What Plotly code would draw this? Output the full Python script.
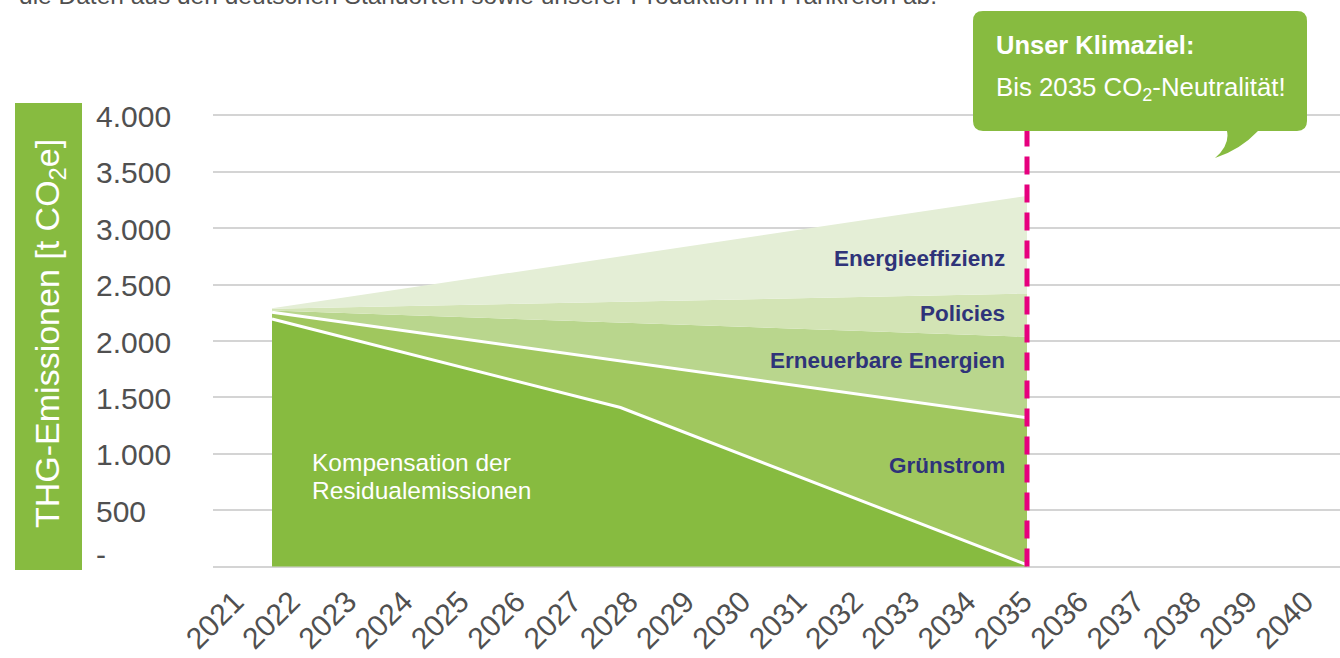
import numpy as np
import plotly.graph_objects as go

# ---------------- data ----------------
years_all = list(range(2021, 2041))
year_labels = [str(y) for y in years_all]

vertex_years = [2022, 2028, 2035]
kompensation = [2195, 1410, 15]      # Kompensation der Residualemissionen
gruenstrom = [60, 414, 1304]         # Grünstrom
erneuerbare = [15, 339, 719]         # Erneuerbare Energien
policies = [15, 184, 382]            # Policies
effizienz = [5, 403, 867]            # Energieeffizienz

y_ticks = [0, 500, 1000, 1500, 2000, 2500, 3000, 3500, 4000]
y_tick_labels = ["-", "500", "1.000", "1.500", "2.000", "2.500", "3.000", "3.500", "4.000"]

target_year = 2035

# ---------------- layout geometry ----------------
W, H = 1340, 658
ML, MR, MT, MB = 213, 0, 114, 90
PW, PH = W - ML - MR, H - MT - MB


def pxx(x):
    return (x - ML) / PW


def pxy(y):
    return (H - MB - y) / PH


FONT = "Liberation Sans, Arial, Helvetica, sans-serif"
NAVY = "#2f3379"
GREEN = "#87bb40"
GREY = "#505050"

series = [
    ("Kompensation", kompensation, GREEN, True),
    ("Grünstrom", gruenstrom, "#a0c75e", True),
    ("Erneuerbare Energien", erneuerbare, "#b9d68d", False),
    ("Policies", policies, "#d3e4b5", False),
    ("Energieeffizienz", effizienz, "#e4eed6", False),
]

fig = go.Figure()
cum = np.zeros(len(vertex_years))
for i, (name, vals, color, white_line) in enumerate(series):
    cum = cum + np.array(vals, dtype=float)
    fig.add_trace(go.Scatter(
        x=vertex_years, y=cum.tolist(), name=name,
        mode="lines",
        fill="tozeroy" if i == 0 else "tonexty",
        fillcolor=color,
        line=dict(color="white" if white_line else color, width=3 if white_line else 0),
        hoverinfo="skip", showlegend=False,
    ))

# invisible trace carrying the year axis
fig.add_trace(go.Scatter(x=years_all, y=[0] * len(years_all), xaxis="x2", mode="markers",
                         marker=dict(opacity=0), hoverinfo="skip", showlegend=False))

# ---------------- axes ----------------
x_px_per_year = (1027 - 272) / (2035 - 2022)
x0 = 2022 - (272 - ML) / x_px_per_year
x1 = 2022 + (W - 272) / x_px_per_year

lab_px_per_year = 56.3
lab_first = 235
l0 = 2021 - (lab_first - ML) / lab_px_per_year
l1 = 2021 + (W - lab_first) / lab_px_per_year

y_per_px = 4000 / PH

fig.update_layout(
    width=W, height=H,
    margin=dict(l=ML, r=MR, t=MT, b=MB, pad=0),
    paper_bgcolor="white", plot_bgcolor="white",
    showlegend=False,
    font=dict(family=FONT, color=GREY),
    xaxis=dict(range=[x0, x1], showgrid=False, showticklabels=False, zeroline=False,
               showline=False, ticks=""),
    xaxis2=dict(range=[l0, l1], overlaying="x", anchor="y", side="bottom",
                tickvals=years_all, ticktext=year_labels, tickangle=-45,
                tickfont=dict(size=30, color=GREY, family=FONT), ticklabelstandoff=9,
                showgrid=False, zeroline=False, showline=False, ticks=""),
    yaxis=dict(range=[-1.5 * y_per_px, 4000 + 1.5 * y_per_px], tickvals=y_ticks, showticklabels=False,
               showgrid=True, gridcolor="#d4d4d4", gridwidth=2, zeroline=False,
               showline=False, ticks=""),
)

# y tick labels, left aligned
for v, t in zip(y_ticks, y_tick_labels):
    fig.add_annotation(x=pxx(94), xref="paper", y=v, yref="y", text=t, showarrow=False,
                       xanchor="left", yanchor="middle",
                       yshift=12 if t == "-" else -1,
                       font=dict(size=30, color=GREY, family=FONT))

# y axis title box
fig.add_shape(type="rect", xref="paper", yref="paper", x0=pxx(15), x1=pxx(82),
              y0=pxy(570), y1=pxy(103), fillcolor=GREEN, line=dict(width=0), layer="above")
fig.add_annotation(x=pxx(49), y=pxy(334), xref="paper", yref="paper",
                   text="THG-Emissionen [t CO<sub>2</sub>e]", textangle=-90, showarrow=False,
                   xanchor="center", yanchor="middle",
                   font=dict(size=34, color="white", family=FONT))

# target line
fig.add_shape(type="line", xref="x", yref="y", x0=target_year, x1=target_year, y0=0, y1=3900,
              line=dict(color="#e6007e", width=5, dash="18px,10px"), layer="above")

# callout bubble
def P(x, y):
    return f"{pxx(x):.5f},{pxy(y):.5f}"

path = (f"M {P(983, 11)} L {P(1297, 11)} Q {P(1307, 11)} {P(1307, 21)} "
        f"L {P(1307, 121)} Q {P(1307, 131)} {P(1297, 131)} L {P(1258, 131)} "
        f"Q {P(1240, 150)} {P(1215, 158)} Q {P(1230, 145)} {P(1227, 131)} "
        f"L {P(983, 131)} Q {P(973, 131)} {P(973, 121)} L {P(973, 21)} "
        f"Q {P(973, 11)} {P(983, 11)} Z")
fig.add_shape(type="path", xref="paper", yref="paper", path=path,
              fillcolor=GREEN, line=dict(width=0), layer="above")
fig.add_annotation(x=pxx(994), y=pxy(45), xref="paper", yref="paper",
                   text="<b>Unser Klimaziel:</b>", showarrow=False, xanchor="left", yanchor="middle",
                   font=dict(size=25.5, color="white", family=FONT))
fig.add_annotation(x=pxx(994), y=pxy(89), xref="paper", yref="paper",
                   text="Bis 2035 CO<sub>2</sub>-Neutralität!", showarrow=False, xanchor="left",
                   yanchor="middle", font=dict(size=25.8, color="white", family=FONT))

# series labels
labels = [
    ("Energieeffizienz", 258),
    ("Policies", 313),
    ("Erneuerbare Energien", 360),
    ("Grünstrom", 465),
]
for t, ypix in labels:
    fig.add_annotation(x=target_year, xref="x", xshift=-20, y=pxy(ypix), yref="paper",
                       text=f"<b>{t}</b>", showarrow=False, xanchor="right", yanchor="middle",
                       font=dict(size=22.5, color=NAVY, family=FONT))
for t, ypix in [("Kompensation der", 462), ("Residualemissionen", 490)]:
    fig.add_annotation(x=pxx(310), xref="paper", y=pxy(ypix), yref="paper",
                       text=t, showarrow=False, xanchor="left", yanchor="middle",
                       font=dict(size=24.5, color="white", family=FONT))

# cropped intro text at the very top
fig.add_annotation(x=pxx(17), xref="paper", y=pxy(-4), yref="paper",
                   text="die Daten aus den deutschen Standorten sowie unserer Produktion in Frankreich ab.",
                   showarrow=False, xanchor="left", yanchor="middle",
                   font=dict(size=24.5, color=GREY, family=FONT))

fig.write_html("out.html", config={"displayModeBar": False},
               post_script="document.body.style.margin='0';document.body.style.overflow='hidden';")
